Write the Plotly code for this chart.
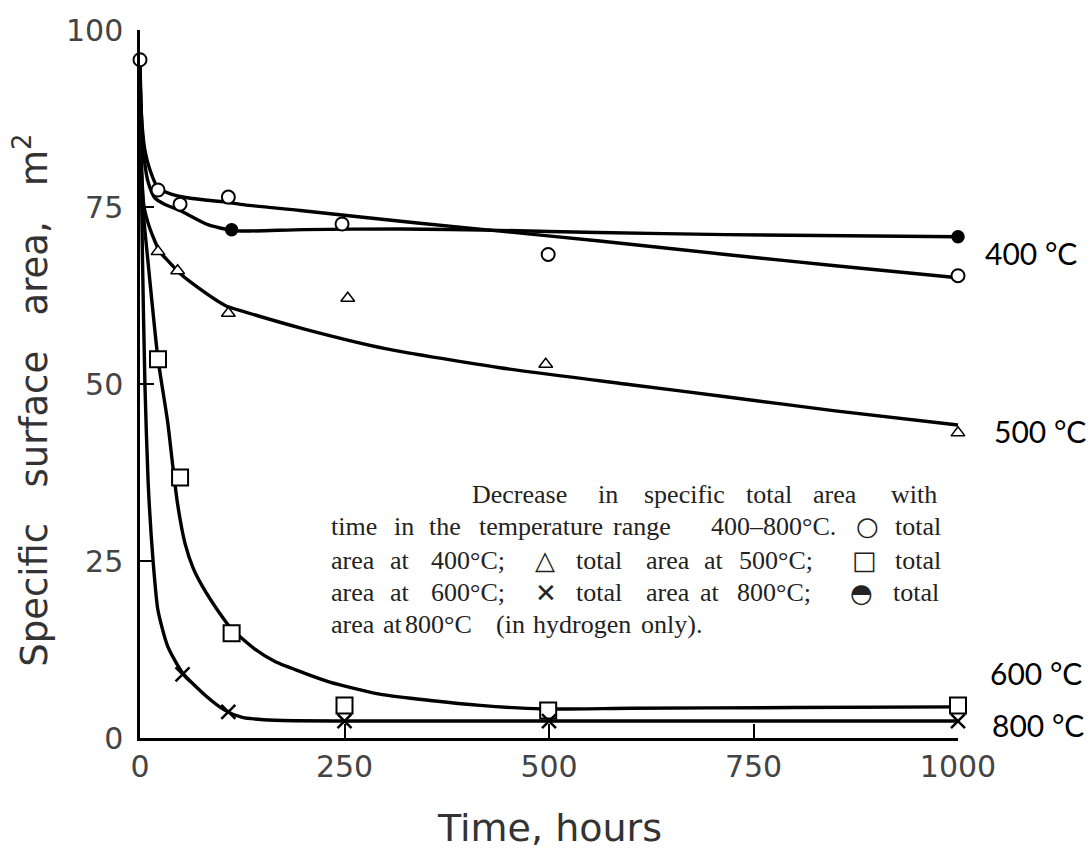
import plotly.graph_objects as go

# ---------------- data ----------------
# measured points
t400_pts = [0, 22, 49, 108, 247, 499, 1000]
a400_pts = [95.8, 77.4, 75.4, 76.4, 72.6, 68.3, 65.3]

tH2_pts = [112, 1000]
aH2_pts = [71.8, 70.8]

t500_pts = [22, 46, 108, 254, 496, 1000]
a500_pts = [68.7, 66.0, 60.0, 62.1, 52.8, 43.1]

t600_pts = [22, 49, 112, 250, 499, 1000]
a600_pts = [53.5, 36.8, 14.8, 4.6, 3.9, 4.6]

t800_pts = [52, 108, 250, 500, 1000]
a800_pts = [9.0, 3.7, 2.4, 2.4, 2.4]

# fitted curves
t400_fit = [0, 1, 3, 6, 12, 22, 39, 64, 104, 128, 196, 342, 440, 562, 716, 850, 1000]
a400_fit = [96, 90, 86, 83, 80.3, 77.7, 76.8, 76.2, 75.7, 75.3, 74.5, 72.7, 71.6, 70.2, 68.3, 66.7, 65.0]

tH2_fit = [0, 1, 3, 6, 10, 18, 30, 49, 83, 112, 128, 200, 318, 440, 560, 716, 1000]
aH2_fit = [96, 90, 85, 81, 78.5, 76.3, 75.4, 74.5, 72.5, 71.7, 71.6, 71.8, 71.9, 71.7, 71.4, 71.1, 70.8]

t500_fit = [0, 2, 5, 12, 24, 31, 49, 64, 104, 128, 200, 300, 440, 600, 716, 850, 1000]
a500_fit = [96, 80, 75, 72, 68.7, 67.8, 65.6, 64.2, 61.1, 60.2, 57.8, 55.0, 52.3, 49.9, 48.2, 46.2, 44.2]

t600_fit = [0, 2, 5, 10, 16, 22, 28, 34, 40, 46, 55, 65, 76, 100, 112, 140, 165, 200, 232, 293, 355, 416, 493, 600, 800, 1000]
a600_fit = [96, 80, 73, 67, 60, 53.5, 49, 44.5, 38.5, 33, 27.5, 24, 21.5, 17.2, 15.4, 12.6, 10.8, 9.2, 7.9, 6.2, 5.3, 4.6, 4.1, 4.2, 4.3, 4.4]

t800_fit = [0, 1, 3, 6, 10, 16, 22, 34, 52, 80, 104, 125, 165, 250, 500, 750, 1000]
a800_fit = [96, 85, 68, 50, 36, 25, 18, 12.9, 9.2, 6.0, 3.9, 2.9, 2.5, 2.4, 2.4, 2.4, 2.4]

x_ticks = [0, 250, 500, 750, 1000]
x_tick_text = ["0", "250", "500", "750", "1000"]
y_ticks = [0, 25, 50, 75, 100]
y_tick_text = ["0", "25", "50", "75", "100"]

series_labels = ["400 °C", "500 °C", "600 °C", "800 °C"]

caption_lines = [
    ["Decrease", "in", "specific", "total", "area", "with"],
    ["time", "in", "the", "temperature", "range", "400–800°C.", "○", "total"],
    ["area", "at", "400°C;", "△", "total", "area", "at", "500°C;", "□", "total"],
    ["area", "at", "600°C;", "✕", "total", "area", "at", "800°C;", "◓", "total"],
    ["area", "at", "800°C", "(in", "hydrogen", "only)."],
]

# ---------------- layout helpers (screen pixel geometry of the plot) ----------------
PL, PR, PT, PB = 140, 958, 22, 738
W, H = 1092, 850


def px2paper(px, py):
    return (px - PL) / (PR - PL), (PB - py) / (PB - PT)


fig = go.Figure()

LW = 3.4
for tx, ay in [(t400_fit, a400_fit), (tH2_fit, aH2_fit), (t500_fit, a500_fit),
               (t600_fit, a600_fit), (t800_fit, a800_fit)]:
    fig.add_trace(go.Scatter(x=tx, y=ay, mode="lines",
                             line=dict(color="black", width=LW, shape="spline", smoothing=0.6),
                             hoverinfo="skip", cliponaxis=False))

fig.add_trace(go.Scatter(x=t400_pts, y=a400_pts, mode="markers", cliponaxis=False,
                         marker=dict(symbol="circle", size=13, color="white",
                                     line=dict(color="black", width=2))))
fig.add_trace(go.Scatter(x=tH2_pts, y=aH2_pts, mode="markers", cliponaxis=False,
                         marker=dict(symbol="circle", size=12, color="black",
                                     line=dict(color="black", width=1.5))))
fig.add_trace(go.Scatter(x=t500_pts, y=a500_pts, mode="markers", cliponaxis=False,
                         marker=dict(symbol="triangle-up", size=12, color="white",
                                     line=dict(color="black", width=1.5))))
fig.add_trace(go.Scatter(x=t600_pts, y=a600_pts, mode="markers", cliponaxis=False,
                         marker=dict(symbol="square", size=16, color="white",
                                     line=dict(color="black", width=2))))
fig.add_trace(go.Scatter(x=t800_pts, y=a800_pts, mode="markers", cliponaxis=False,
                         marker=dict(symbol="x-thin", size=14, color="black",
                                     line=dict(color="black", width=2.5))))

axis_font = dict(family="DejaVu Sans", size=30, color="#444444")

fig.update_xaxes(range=[0, 1000], tickvals=x_ticks, ticktext=x_tick_text,
                 ticks="inside", ticklen=14, tickwidth=2, tickcolor="black",
                 showline=True, linecolor="black", linewidth=2.5,
                 showgrid=False, zeroline=False, tickfont=axis_font,
                 ticklabeloverflow="allow")
fig.update_yaxes(range=[0, 100], tickvals=y_ticks, ticktext=y_tick_text,
                 ticks="inside", ticklen=14, tickwidth=2, tickcolor="black",
                 showline=True, linecolor="black", linewidth=2.5,
                 showgrid=False, zeroline=False, tickfont=axis_font,
                 ticklabelstandoff=8, ticklabeloverflow="allow")

annotations = []
# axis titles
annotations.append(dict(text="Time, hours", xref="paper", yref="paper", x=0.5, y=0,
                        xanchor="center", yanchor="top", yshift=-66, showarrow=False,
                        font=dict(family="DejaVu Sans", size=38, color="#333333")))
ty = px2paper(0, 397)[1]
sp = "\u00a0\u00a0\u00a0"
annotations.append(dict(text="Specific" + sp + "surface" + sp + "area," + sp + "m<sup>2</sup>",
                        xref="paper", yref="paper", x=0, y=ty, xanchor="center",
                        yanchor="middle", xshift=-108, textangle=-90, showarrow=False,
                        font=dict(family="DejaVu Sans", size=37, color="#333333")))

# series labels at the right
label_pos = [(983, 248), (992, 428), (988, 672), (990, 725)]
for lab, (px, py) in zip(series_labels, label_pos):
    xp, yp = px2paper(px, py)
    annotations.append(dict(text=lab, xref="paper", yref="paper", x=xp, y=yp,
                            xanchor="left", yanchor="middle", showarrow=False,
                            font=dict(family="Lato", size=30, color="black")))

# caption, word by word (justified as in the picture)
word_x = [
    [471, 597, 643, 745, 812, 890],
    [330, 393, 428, 478, 612, 710, 855, 894],
    [330, 389, 430, 534, 575, 645, 703, 738, 851, 894],
    [330, 389, 430, 534, 575, 645, 699, 736, 849, 892],
    [330, 382, 404, 495, 532, 640],
]
line_y = [492, 524, 558, 591, 623]
symbols = {"○", "△", "□", "✕", "◓"}
for words, xs, py in zip(caption_lines, word_x, line_y):
    for w, px in zip(words, xs):
        xp, yp = px2paper(px, py)
        if w in symbols:
            f = dict(family="DejaVu Sans", size=26, color="#222222")
        else:
            f = dict(family="Liberation Serif", size=26, color="#222222")
        annotations.append(dict(text=w, xref="paper", yref="paper", x=xp, y=yp,
                                xanchor="left", yanchor="middle", showarrow=False,
                                borderpad=0, font=f))

fig.update_layout(width=W, height=H,
                  margin=dict(l=PL, r=W - PR, t=PT, b=H - PB),
                  plot_bgcolor="white", paper_bgcolor="white",
                  showlegend=False, annotations=annotations)

fig.write_html("out.html",
               config={"displayModeBar": False},
               post_script="document.body.style.margin='0px';"
                           "document.body.style.overflow='hidden';")
